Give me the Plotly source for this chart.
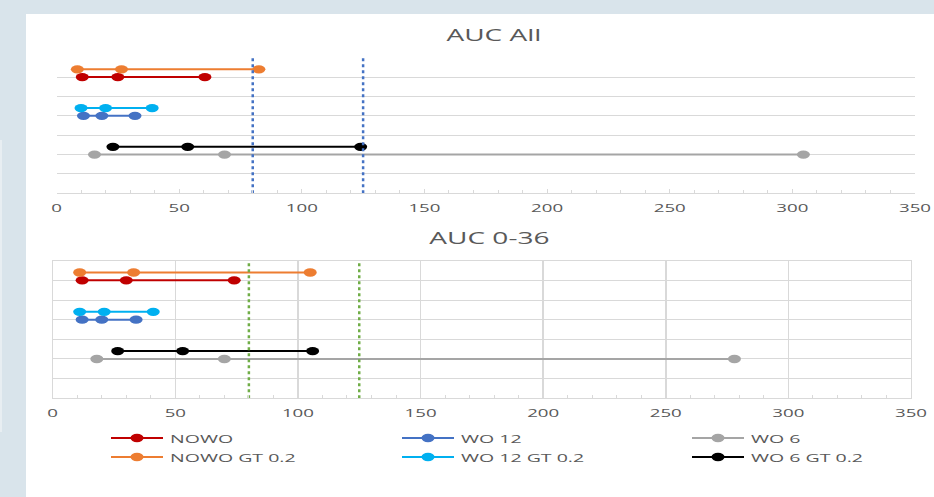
import plotly.graph_objects as go

# ---------------- data ----------------
series_names = ["NOWO", "NOWO GT 0.2", "WO 12", "WO 12 GT 0.2", "WO 6", "WO 6 GT 0.2"]
series_colors = ["#C00000", "#ED7D31", "#4472C4", "#00B0F0", "#A5A5A5", "#000000"]
series_rows = [6, 6.4, 4, 4.4, 2, 2.4]

auc_all = [
    [10.5, 25, 60.5],    # NOWO
    [8.5, 26.5, 82.5],   # NOWO GT 0.2
    [11, 18.5, 32],      # WO 12
    [10, 20, 39],        # WO 12 GT 0.2
    [15.5, 68.5, 304.5], # WO 6
    [23, 53.5, 124],     # WO 6 GT 0.2
]
auc_0_36 = [
    [12, 30, 74],        # NOWO
    [11, 33, 105],       # NOWO GT 0.2
    [12, 20, 34],        # WO 12
    [11, 21, 41],        # WO 12 GT 0.2
    [18, 70, 278],       # WO 6
    [26.5, 53, 106],     # WO 6 GT 0.2
]
ref_limits = [80, 125]
x_ticks = [0, 50, 100, 150, 200, 250, 300, 350]
titles = ["AUC All", "AUC 0-36"]

# legend layout (rows x columns order)
legend_order = [["NOWO", "WO 12", "WO 6"], ["NOWO GT 0.2", "WO 12 GT 0.2", "WO 6 GT 0.2"]]

W, H = 934, 497
def px(x):
    return x / W
def py(y):
    return (H - y) / H

TXT = "#595959"
GRID = "#d9d9d9"
FONT = "Open Sans"

fig = go.Figure()

# ---------------- data traces ----------------
for panel, (data, xa, ya) in enumerate([(auc_all, "x", "y"), (auc_0_36, "x2", "y2")]):
    for name, color, row, vals in zip(series_names, series_colors, series_rows, data):
        fig.add_trace(go.Scatter(
            x=vals, y=[row] * len(vals), mode="lines+markers",
            line=dict(color=color, width=2),
            marker=dict(color=color, size=9),
            xaxis=xa, yaxis=ya, showlegend=False, hoverinfo="skip"))
    ref_color = "#4472C4" if panel == 0 else "#70AD47"
    for v in ref_limits:
        fig.add_trace(go.Scatter(
            x=[v, v], y=[0, 7], mode="lines",
            line=dict(color=ref_color, width=2.5, dash="3px,3px"),
            xaxis=xa, yaxis=ya, showlegend=False, hoverinfo="skip"))

# ---------------- manual legend ----------------
col_x = [111, 402, 692]
row_y = [438, 457]
seg = 52
annotations = []
for r, names in enumerate(legend_order):
    for c, name in enumerate(names):
        color = series_colors[series_names.index(name)]
        x0 = col_x[c]
        fig.add_trace(go.Scatter(
            x=[x0, x0 + seg / 2, x0 + seg], y=[row_y[r]] * 3, mode="lines",
            line=dict(color=color, width=2), xaxis="x3", yaxis="y3",
            showlegend=False, hoverinfo="skip"))
        fig.add_trace(go.Scatter(
            x=[x0 + seg / 2], y=[row_y[r]], mode="markers",
            marker=dict(color=color, size=9), xaxis="x3", yaxis="y3",
            showlegend=False, hoverinfo="skip"))
        annotations.append(dict(
            x=px(x0 + 58), y=py(row_y[r]), xref="paper", yref="paper",
            text=name, showarrow=False, xanchor="left", yanchor="middle", align="left",
            font=dict(family=FONT, size=11.5, color=TXT), borderpad=0))

# ---------------- titles ----------------
annotations.append(dict(x=px(494), y=py(34), xref="paper", yref="paper", text=titles[0],
                        showarrow=False, xanchor="center", yanchor="middle",
                        font=dict(family=FONT, size=16.5, color=TXT)))
annotations.append(dict(x=px(490), y=py(237), xref="paper", yref="paper", text=titles[1],
                        showarrow=False, xanchor="center", yanchor="middle",
                        font=dict(family=FONT, size=16.5, color=TXT)))

xcommon = dict(range=[0, 350], tickvals=x_ticks, ticktext=[str(t) for t in x_ticks],
               ticks="inside", ticklen=4, tickcolor=GRID, tickwidth=1,
               minor=dict(dtick=10, ticks="inside", ticklen=3, tickcolor=GRID, showgrid=False),
               tickfont=dict(family=FONT, size=11, color=TXT), ticklabelstandoff=5,
               zeroline=False, showline=True, linecolor=GRID, linewidth=1,
               automargin=False, fixedrange=True)
ycommon = dict(range=[0, 7], dtick=1, showticklabels=False, zeroline=False,
               showgrid=True, gridcolor=GRID, gridwidth=1, automargin=False, fixedrange=True)

fig.update_layout(
    width=W, height=H,
    margin=dict(l=0, r=0, t=0, b=0),
    paper_bgcolor="#d9e4eb",
    plot_bgcolor="rgba(0,0,0,0)",
    showlegend=False,
    xaxis=dict(domain=[px(56.5), px(915)], anchor="y", showgrid=False, **xcommon),
    yaxis=dict(domain=[py(193.3), py(57.7)], anchor="x", showline=False, **ycommon),
    xaxis2=dict(domain=[px(52.7), px(911)], anchor="y2", showgrid=True, gridcolor=GRID,
                gridwidth=1.5, mirror=True, **xcommon),
    yaxis2=dict(domain=[py(398.3), py(260.7)], anchor="x2", showline=True, mirror=True,
                linecolor=GRID, linewidth=1, **ycommon),
    xaxis3=dict(domain=[0, 1], range=[0, W], visible=False, anchor="y3", fixedrange=True),
    yaxis3=dict(domain=[0, 1], range=[H, 0], visible=False, anchor="x3", fixedrange=True),
    annotations=annotations,
    shapes=[
        dict(type="rect", xref="paper", yref="paper", x0=px(26), x1=1, y0=0, y1=py(14),
             fillcolor="white", line=dict(width=0), layer="below"),
        dict(type="rect", xref="paper", yref="paper", x0=0, x1=px(2), y0=py(432), y1=py(140),
             fillcolor="#e8eef2", line=dict(width=0), layer="below"),
    ],
)

# Remove page margin, and widen glyphs / markers about their anchor point
# (the reference image is horizontally stretched).
post = """
document.body.style.margin = '0';
document.body.style.overflow = 'hidden';
document.documentElement.style.background = '#d9e4eb';
var SX = 1.7;
document.querySelectorAll('.plotly-graph-div text').forEach(function(t){
  if (t.getAttribute('data-st')) return;
  var x = parseFloat(t.getAttribute('x')) || 0;
  var tr = t.getAttribute('transform') || '';
  t.setAttribute('transform', tr + ' translate(' + x + ',0) scale(' + SX + ',1) translate(' + (-x) + ',0)');
  t.setAttribute('data-st', '1');
});
document.querySelectorAll('.plotly-graph-div path.point').forEach(function(p){
  if (p.getAttribute('data-st')) return;
  var tr = p.getAttribute('transform') || '';
  p.setAttribute('transform', tr + ' scale(1.45,0.92)');
  p.setAttribute('data-st', '1');
});
"""
fig.write_html("out.html", post_script=post, config={"staticPlot": True})
